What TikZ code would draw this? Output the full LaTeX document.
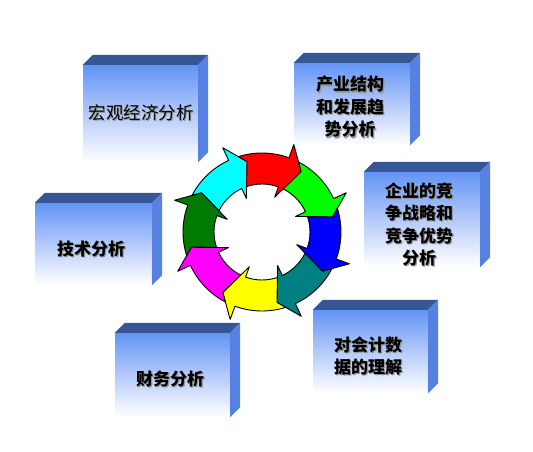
\documentclass[tikz,border=0pt]{standalone}
\usepackage{fontspec}
\newfontfamily\cjk{Noto Sans CJK SC}
\definecolor{boxtop}{RGB}{98,148,245}
\definecolor{boxmid}{RGB}{180,202,250}
\definecolor{topface}{RGB}{55,86,150}
\definecolor{sideface}{RGB}{86,128,225}
\definecolor{shadowgray}{RGB}{150,150,150}
\definecolor{ccyan}{RGB}{0,255,255}
\definecolor{cred}{RGB}{255,0,0}
\definecolor{cgreen}{RGB}{0,255,0}
\definecolor{cblue}{RGB}{0,0,255}
\definecolor{cteal}{RGB}{0,128,128}
\definecolor{cyellow}{RGB}{255,255,0}
\definecolor{cmagenta}{RGB}{255,0,255}
\definecolor{cdkgreen}{RGB}{0,122,0}
\newcommand\shd[1]{\makebox[0pt][l]{\kern1.3pt\raisebox{-1.3pt}{\textcolor{shadowgray}{#1}}}#1}
\tikzset{
  boxfront/.style={inner sep=0pt, top color=boxtop, bottom color=white, middle color=boxmid},
  boxtext/.style={inner sep=0pt, align=center, text=black},
  regtext/.style={font=\cjk\fontsize{17.5}{22}\selectfont},
  boldtext/.style={font=\cjk\bfseries\fontsize{17}{22.5}\selectfont},
  topfc/.style={fill=topface},
  sidefc/.style={fill=sideface},
  ringseg/.style={draw=black, line width=0.9pt, line join=round}
}
\begin{document}
\begin{tikzpicture}[x=1pt,y=-1pt]
\useasboundingbox[fill=white] (0,0) rectangle (533,452);

% boxes (front faces)
\node[boxfront, minimum width=115pt, minimum height=97pt] (b1) at (140.5,113.5) {};
\node[boxfront, minimum width=116pt, minimum height=82pt] (b2) at (352,104) {};
\node[boxfront, minimum width=116pt, minimum height=95pt] (b3) at (422,219.5) {};
\node[boxfront, minimum width=117pt, minimum height=82pt] (b4) at (93.5,244) {};
\node[boxfront, minimum width=115pt, minimum height=84pt] (b5) at (172.5,375) {};
\node[boxfront, minimum width=115pt, minimum height=83pt] (b6) at (370.5,351.5) {};

\foreach \b in {b1,b2,b3,b4,b5,b6}{
  \fill[topfc] (\b.north west) -- ++(10,-10) -- ([shift={(10,-10)}]\b.north east) -- (\b.north east) -- cycle;
  \fill[sidefc] (\b.north east) -- ++(10,-10) -- ([shift={(10,-10)}]\b.south east) -- (\b.south east) -- cycle;
}

% box texts
\node[boxtext, regtext] (t1) at (141,113.5) {\shd{宏观经济分析}};
\node[boxtext, boldtext] (t2) at (350,107.5) {\shd{产业结构}\\\shd{和发展趋}\\\shd{势分析}};
\node[boxtext, boldtext] (t3) at (419,225) {\shd{企业的竞}\\\shd{争战略和}\\\shd{竞争优势}\\\shd{分析}};
\node[boxtext, boldtext] (t4) at (91,249.5) {\shd{技术分析}};
\node[boxtext, boldtext] (t5) at (170,379.5) {\shd{财务分析}};
\node[boxtext, boldtext] (t6) at (368,356.5) {\shd{对会计数}\\\shd{据的理解}};

% circular arrows
\begin{scope}[shift={(262,232)}, y=1pt]
\foreach \a/\c in {115/ccyan,70/cred,25/cgreen,-20/cblue,-65/cteal,-110/cyellow,-155/cmagenta,160/cdkgreen}{
  \draw[ringseg, fill=\c] ({\a+37.42}:79) arc[start angle={\a+37.42}, end angle=\a, radius=79]
    -- (\a:93) -- ({\a-13}:72) -- (\a:37) -- (\a:48)
    arc[start angle=\a, end angle={\a+38.74}, radius=48]
    -- ({\a+32}:72) -- cycle;
}
\end{scope}
\end{tikzpicture}
\end{document}
